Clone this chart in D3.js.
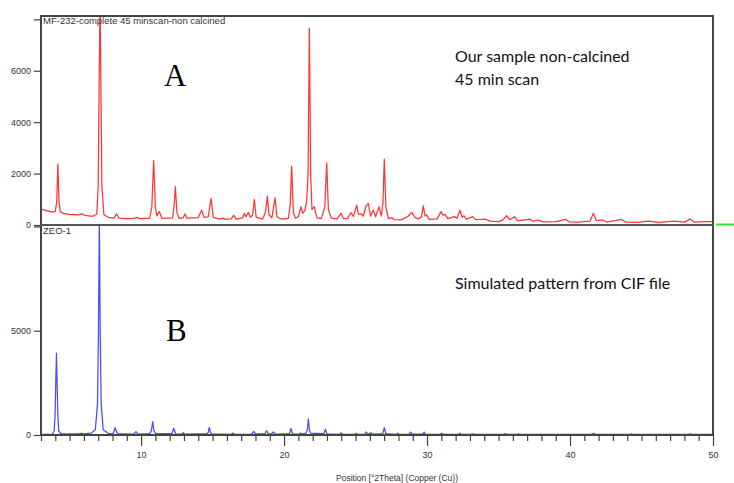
<!DOCTYPE html>
<html>
<head>
<meta charset="utf-8">
<script src="https://cdn.jsdelivr.net/npm/d3@7"></script>
<style>
    body { margin: 0; background: #fff; }
    svg { display: block; }
    .tick text { font-family: "Liberation Sans", Arial, sans-serif; font-size: 9px; fill: #333; }
    .tick line { stroke: #444; stroke-width: 1.2; }
</style>
</head>
<body>
<svg id="chart" width="734" height="483"></svg>
<script>
// sample pattern (red), [2theta, counts]
var sampleScan = [
    [3.0, 620], [3.4, 560], [3.8, 500], [4.0, 520], [4.1, 900], [4.18, 2370], [4.26, 900], [4.35, 520],
    [4.6, 440], [5.0, 410], [5.6, 390], [5.85, 430], [6.1, 370], [6.6, 340], [6.9, 420], [7.0, 1500],
    [7.13, 9000], [7.26, 1500], [7.4, 400], [7.7, 300], [8.1, 270], [8.29, 430], [8.45, 270], [9.0, 250],
    [9.5, 260], [9.71, 300], [9.9, 250], [10.6, 270], [10.75, 700], [10.88, 2500], [11.0, 700], [11.1, 350],
    [11.28, 520], [11.45, 260], [12.2, 280], [12.3, 700], [12.4, 1490], [12.5, 500], [12.65, 260], [12.95, 280],
    [13.07, 430], [13.2, 270], [14.0, 290], [14.24, 580], [14.4, 300], [14.7, 320], [14.89, 1040], [15.05, 300],
    [15.5, 230], [15.7, 270], [15.9, 220], [16.3, 240], [16.47, 375], [16.65, 230], [17.1, 280], [17.22, 455],
    [17.33, 320], [17.5, 490], [17.65, 300], [17.8, 380], [17.92, 1000], [18.05, 300], [18.5, 230], [18.7, 500],
    [18.83, 1125], [18.95, 400], [19.15, 280], [19.37, 1060], [19.5, 320], [19.7, 260], [19.9, 230], [20.3, 260],
    [20.43, 800], [20.53, 2290], [20.65, 500], [20.8, 260], [21.0, 320], [21.18, 710], [21.3, 450], [21.45, 560],
    [21.58, 905], [21.68, 2000], [21.77, 7650], [21.86, 2000], [21.95, 600], [22.12, 710], [22.3, 280], [22.6, 250],
    [22.85, 700], [22.98, 2420], [23.1, 600], [23.3, 270], [23.7, 240], [23.98, 455], [24.15, 250], [24.45, 260],
    [24.68, 480], [24.85, 330], [25.08, 775], [25.2, 420], [25.38, 430], [25.55, 350], [25.73, 740], [25.89, 840],
    [26.05, 350], [26.24, 580], [26.4, 320], [26.64, 710], [26.8, 350], [26.92, 900], [27.01, 2560], [27.12, 700],
    [27.3, 250], [27.53, 290], [27.7, 210], [28.2, 200], [28.7, 350], [28.93, 490], [29.15, 300], [29.35, 240],
    [29.6, 300], [29.74, 740], [29.86, 350], [29.98, 390], [30.15, 220], [30.7, 240], [30.98, 520], [31.12, 380],
    [31.26, 415], [31.45, 250], [31.91, 325], [32.1, 260], [32.3, 580], [32.45, 300], [32.58, 360], [32.75, 230],
    [33.19, 325], [33.4, 210], [33.82, 220], [34.05, 230], [34.4, 150], [35.0, 130], [35.3, 200], [35.57, 360],
    [35.8, 200], [36.1, 325], [36.35, 160], [37.2, 230], [37.4, 140], [37.78, 195], [38.1, 120], [39.0, 130],
    [39.7, 220], [39.95, 120], [40.6, 110], [41.4, 150], [41.63, 455], [41.85, 170], [42.26, 195], [42.6, 110],
    [43.6, 220], [43.9, 110], [44.7, 100], [45.48, 155], [46.2, 100], [47.3, 155], [48.0, 110], [48.4, 230],
    [48.7, 110], [49.5, 130], [50.0, 130]
];

// simulated pattern from CIF (blue)
var simulatedScan = [
    [3.0, 30], [3.8, 40], [3.92, 200], [3.98, 900], [4.08, 3930], [4.18, 900], [4.24, 200], [4.4, 60],
    [5.6, 50], [5.8, 80], [6.0, 50], [6.5, 90], [6.8, 250], [6.95, 1500], [7.02, 5000], [7.08, 10500],
    [7.14, 5000], [7.21, 1500], [7.35, 250], [7.7, 80], [8.0, 60], [8.08, 120], [8.18, 350], [8.3, 120], [8.4, 60], [9.5, 40],
    [9.64, 160], [9.8, 40], [10.6, 70], [10.72, 200], [10.81, 640], [10.9, 200], [11.02, 70], [12.15, 60], [12.28, 320], [12.42, 60],
    [12.85, 40], [12.95, 110], [13.05, 40], [14.6, 60], [14.7, 130], [14.77, 370], [14.85, 130], [14.95, 50], [16.3, 30], [16.41, 95],
    [16.55, 30], [17.75, 40], [17.87, 175], [18.0, 50], [18.65, 50], [18.78, 205], [18.9, 60], [19.1, 50],
    [19.25, 145], [19.4, 40], [20.38, 60], [20.48, 320], [20.6, 50], [21.05, 40], [21.14, 95], [21.25, 50],
    [21.55, 90], [21.63, 250], [21.7, 770], [21.77, 250], [21.85, 90], [22.78, 60], [22.89, 275], [23.0, 50], [23.9, 35], [23.98, 95],
    [24.1, 35], [24.95, 30], [25.03, 80], [25.15, 35], [25.65, 40], [25.73, 145], [25.9, 40], [26.08, 110],
    [26.2, 40], [26.9, 60], [27.01, 350], [27.12, 60], [27.85, 35], [27.95, 80], [28.05, 35], [28.75, 40],
    [28.85, 140], [28.98, 40], [29.7, 40], [29.8, 140], [29.9, 40], [30.9, 30], [31.02, 80], [31.15, 30],
    [32.2, 30], [32.3, 80], [32.4, 30], [33.0, 30], [33.2, 60], [33.4, 30], [35.35, 30], [35.45, 70],
    [35.6, 30], [36.3, 30], [36.4, 50], [36.5, 30], [41.5, 30], [41.63, 80], [41.75, 30], [44.2, 30],
    [44.3, 50], [44.4, 30], [48.3, 30], [48.4, 60], [48.5, 30], [50.0, 30]
];

var topTicks = [0, 2000, 4000, 6000, 8000];
var bottomTicks = [0, 5000, 10000];
var xLabelTicks = [10, 20, 30, 40, 50];

var svg = d3.select("#chart");
var left = 41, right = 713, top0 = 16, mid = 225, bottom = 435;

var x = d3.scaleLinear().domain([3, 50]).range([left, right]);
var yTop = d3.scaleLinear().domain([0, 8130]).range([mid, top0]);
var yBot = d3.scaleLinear().domain([0, 10070]).range([bottom, mid]);

var defs = svg.append("defs");
defs.append("clipPath").attr("id", "clipTop").append("rect")
    .attr("x", left).attr("y", top0 - 1).attr("width", right - left).attr("height", mid - top0 + 1);
defs.append("clipPath").attr("id", "clipBot").append("rect")
    .attr("x", left).attr("y", mid).attr("width", right - left).attr("height", bottom - mid);

// patterns
var lineTop = d3.line().x(function (d) { return x(d[0]); }).y(function (d) { return yTop(d[1]); });
var lineBot = d3.line().x(function (d) { return x(d[0]); }).y(function (d) { return yBot(d[1]); });

svg.append("path")
    .datum(sampleScan)
    .attr("clip-path", "url(#clipTop)")
    .attr("fill", "none")
    .attr("stroke", "#ff3535")
    .attr("stroke-width", 1.25)
    .attr("stroke-linejoin", "round")
    .attr("d", lineTop);

svg.append("path")
    .datum(simulatedScan)
    .attr("clip-path", "url(#clipBot)")
    .attr("fill", "none")
    .attr("stroke", "#4a4aff")
    .attr("stroke-width", 1.25)
    .attr("stroke-linejoin", "round")
    .attr("d", lineBot);

// y axes
var axTop = svg.append("g")
    .attr("transform", "translate(" + left + ",0)")
    .call(d3.axisLeft(yTop).tickValues(topTicks).tickSize(7).tickPadding(3)
        .tickFormat(function (d) { return d === 8000 ? "" : d; }));
axTop.select(".domain").remove();

var axBot = svg.append("g")
    .attr("transform", "translate(" + left + ",0)")
    .call(d3.axisLeft(yBot).tickValues(bottomTicks).tickSize(7).tickPadding(3)
        .tickFormat(function (d) { return d === 10000 ? "" : d; }));
axBot.select(".domain").remove();

// x axis, minor tick every degree
var axX = svg.append("g")
    .attr("transform", "translate(0," + bottom + ")")
    .call(d3.axisBottom(x).tickValues(d3.range(3, 51)).tickSize(6).tickPadding(6)
        .tickFormat(function (d) { return xLabelTicks.indexOf(d) >= 0 ? d : ""; }));
axX.select(".domain").remove();
axX.selectAll(".tick line")
    .attr("y2", function (d) { return xLabelTicks.indexOf(d) >= 0 ? 11 : 6; });
axX.selectAll(".tick text").attr("y", 17);

// frame
svg.append("rect")
    .attr("x", left).attr("y", top0)
    .attr("width", right - left).attr("height", bottom - top0)
    .attr("fill", "none").attr("stroke", "#444").attr("stroke-width", 2);
svg.append("line")
    .attr("x1", left).attr("x2", right).attr("y1", mid).attr("y2", mid)
    .attr("stroke", "#555").attr("stroke-width", 2);

// green marker at the right edge
svg.append("line")
    .attr("x1", 716).attr("x2", 734).attr("y1", mid - 0.5).attr("y2", mid - 0.5)
    .attr("stroke", "#33dd33").attr("stroke-width", 2);

// panel titles
svg.append("text")
    .attr("x", 43).attr("y", 24)
    .style("font-family", "Liberation Sans, Arial, sans-serif")
    .style("font-size", "9.5px").style("fill", "#333")
    .text("MF-232-complete 45 minscan-non calcined");
svg.append("text")
    .attr("x", 43).attr("y", 234)
    .style("font-family", "Liberation Sans, Arial, sans-serif")
    .style("font-size", "9.5px").style("fill", "#333")
    .text("ZEO-1");

// axis title
svg.append("text")
    .attr("x", 397).attr("y", 481)
    .attr("text-anchor", "middle")
    .style("font-family", "Liberation Sans, Arial, sans-serif")
    .style("font-size", "8.5px").style("fill", "#333")
    .text("Position [°2Theta] (Copper (Cu))");

// annotations
svg.append("text").attr("x", 164).attr("y", 86)
    .style("font-family", "Liberation Serif, Times New Roman, serif")
    .style("font-size", "31px").text("A");
svg.append("text").attr("x", 166).attr("y", 341)
    .style("font-family", "Liberation Serif, Times New Roman, serif")
    .style("font-size", "31px").text("B");

var note = svg.append("g")
    .style("font-family", "Lato, Open Sans, sans-serif")
    .style("font-size", "16px")
    .style("fill", "#111");
note.append("text").attr("x", 455).attr("y", 62).text("Our sample non-calcined");
note.append("text").attr("x", 455).attr("y", 85).text("45 min scan");
note.append("text").attr("x", 455).attr("y", 289).text("Simulated pattern from CIF file");
</script>
</body>
</html>
